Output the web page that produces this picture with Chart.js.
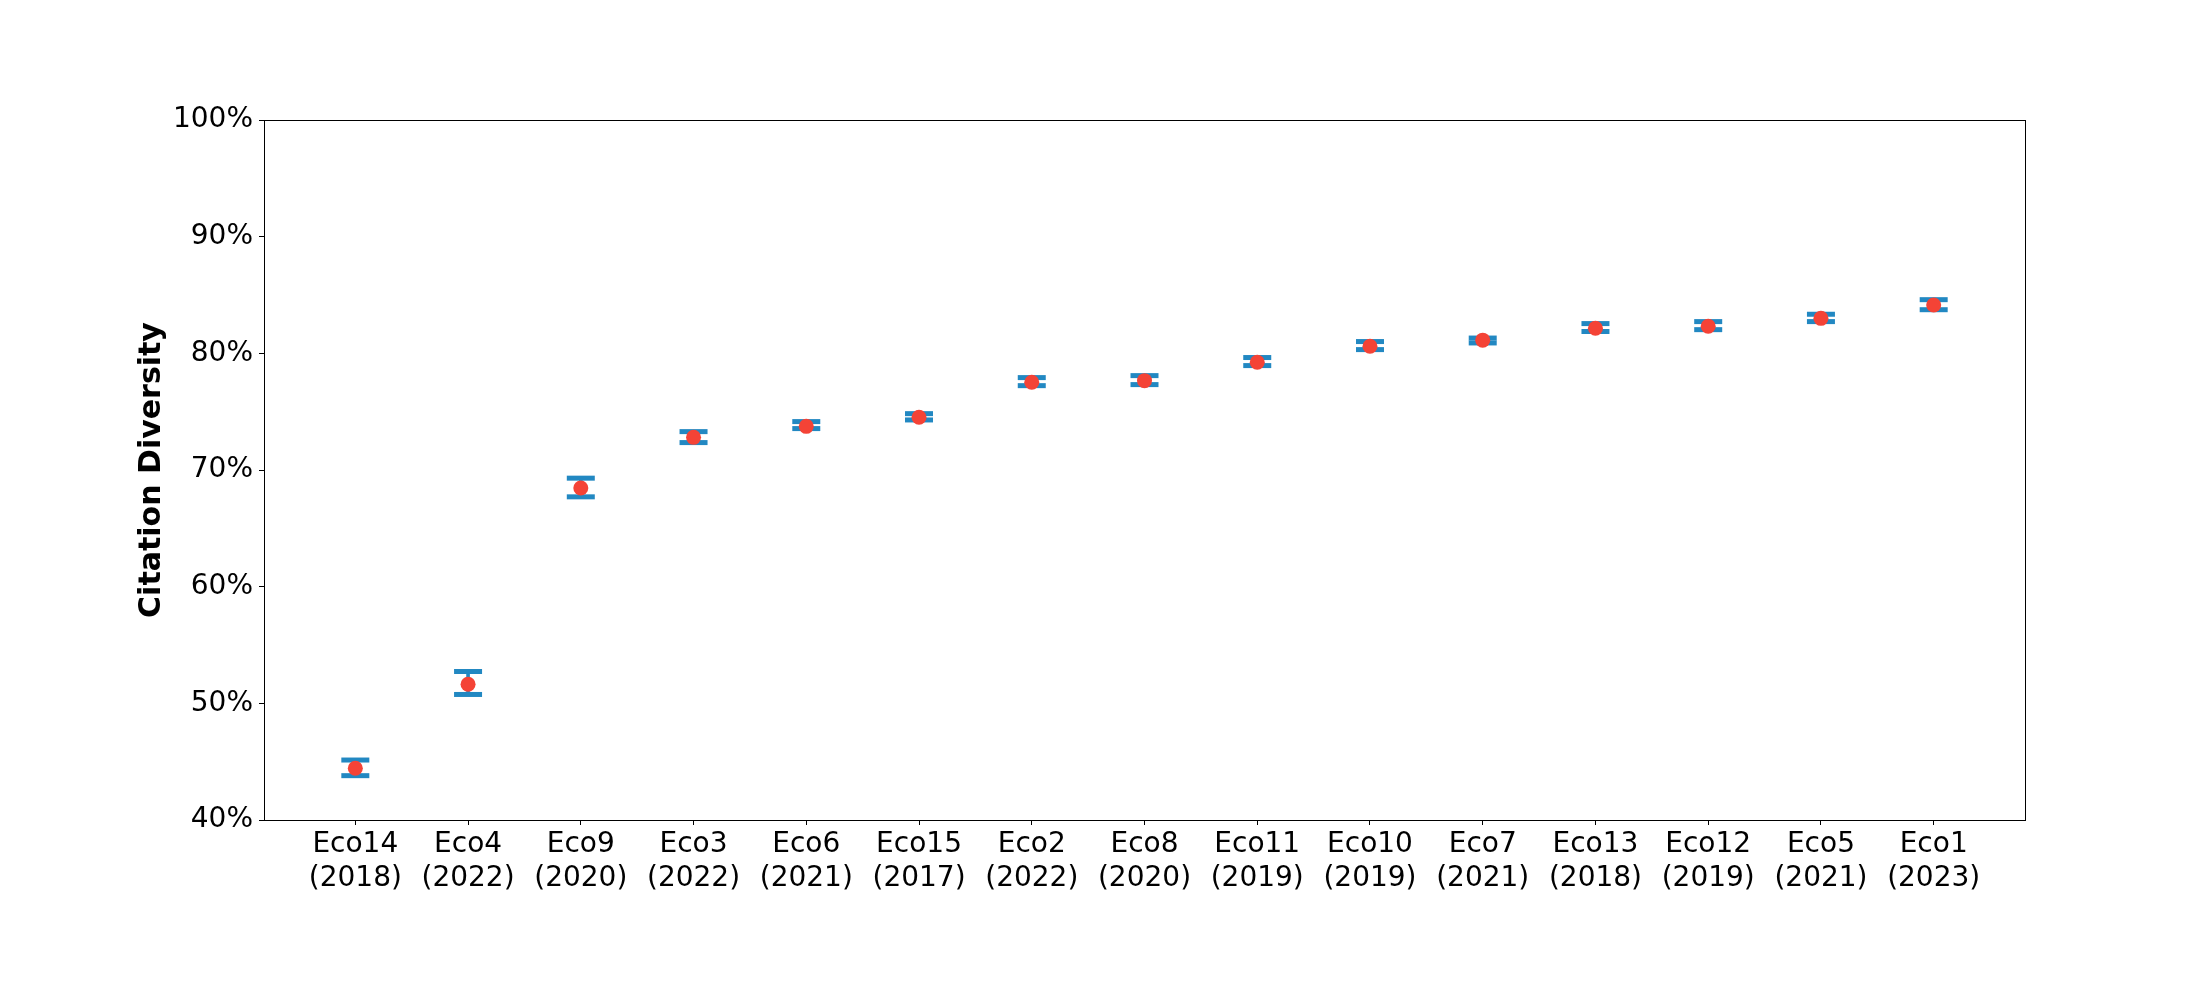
<!DOCTYPE html>
<html>
<head>
<meta charset="utf-8">
<script src="https://cdn.jsdelivr.net/npm/chart.js@4.4.1/dist/chart.umd.min.js"></script>
<style>
  html, body { margin: 0; padding: 0; background: #fff; }
  canvas { display: block; }
</style>
</head>
<body>
<canvas id="chart" width="2200" height="1000"></canvas>
<script>
// ── Data ───────────────────────────────────────────────
const names = ['Eco14', 'Eco4', 'Eco9', 'Eco3', 'Eco6', 'Eco15', 'Eco2', 'Eco8', 'Eco11', 'Eco10', 'Eco7', 'Eco13', 'Eco12', 'Eco5', 'Eco1']
const years = ['2018', '2022', '2020', '2022', '2021', '2017', '2022', '2020', '2019', '2019', '2021', '2018', '2019', '2021', '2023']
const means = [44.43, 51.64, 68.46, 72.80, 73.74, 74.52, 77.52, 77.66, 79.24, 80.61, 81.13, 82.15, 82.32, 83.00, 84.14]
const upper = [45.14, 52.73, 69.30, 73.29, 74.15, 74.83, 77.92, 78.09, 79.64, 81.01, 81.31, 82.55, 82.72, 83.35, 84.60]
const lower = [43.80, 50.76, 67.70, 72.35, 73.55, 74.29, 77.23, 77.32, 78.95, 80.32, 80.89, 81.87, 82.03, 82.72, 83.74]
const yTicks = [40, 50, 60, 70, 80, 90, 100]

const BLUE = '#2288c2'
const RED  = '#f44336'
const FONT = "'DejaVu Sans', sans-serif"

// box around the plot, like matplotlib spines
const framePlugin = {
  id: 'frame',
  afterDatasetsDraw(chart) {
    const { ctx, chartArea: a } = chart
    ctx.save()
    ctx.strokeStyle = '#000'
    ctx.lineWidth = 1
    ctx.strokeRect(Math.round(a.left) + 0.5, Math.round(a.top) + 0.5, Math.round(a.right - a.left), Math.round(a.bottom - a.top))
    ctx.restore()
  }
}

const capSet = (vals) => ({
  type: 'line',
  data: vals.map((v, i) => ({ x: i, y: v })),
  showLine: false,
  pointStyle: 'line',
  pointRadius: 14,
  pointHoverRadius: 14,
  borderColor: BLUE,
  pointBorderColor: BLUE,
  pointBorderWidth: 5,
  order: 1
})

new Chart(document.getElementById('chart'), {
  type: 'line',
  data: {
    datasets: [
      {
        type: 'bar',
        data: lower.map((v, i) => ({ x: i, y: [v, upper[i]] })),
        backgroundColor: BLUE,
        borderWidth: 0,
        barThickness: 3,
        order: 2
      },
      capSet(upper),
      capSet(lower),
      {
        type: 'line',
        data: means.map((v, i) => ({ x: i, y: v })),
        showLine: false,
        pointStyle: 'circle',
        pointRadius: 7.5,
        pointBackgroundColor: RED,
        pointBorderColor: RED,
        pointBorderWidth: 0,
        order: 0
      }
    ]
  },
  options: {
    responsive: false,
    animation: false,
    events: [],
    layout: { padding: { left: 0, right: 175, top: 120, bottom: 0 } },
    plugins: { legend: { display: false }, tooltip: { enabled: false } },
    scales: {
      x: {
        type: 'linear',
        offset: false,
        min: -0.81,
        max: names.length - 1 + 0.81,
        afterBuildTicks: s => { s.ticks = names.map((n, i) => ({ value: i })) },
        afterFit: s => { s.height = 180 },
        border: { display: false },
        grid: { offset: false, drawOnChartArea: false, drawTicks: true, tickLength: 5, color: '#000' },
        ticks: {
          autoSkip: false,
          maxRotation: 0,
          padding: 3,
          color: '#000',
          font: { family: FONT, size: 28, lineHeight: 1.2 },
          callback: v => [names[v], '(' + years[v] + ')']
        }
      },
      y: {
        min: 40,
        max: 100,
        afterBuildTicks: s => { s.ticks = yTicks.map(v => ({ value: v })) },
        afterFit: s => { s.width = 264 },
        border: { display: false },
        grid: { drawOnChartArea: false, drawTicks: true, tickLength: 5, color: '#000' },
        ticks: {
          padding: 6,
          color: '#000',
          font: { family: FONT, size: 28 },
          callback: v => v + '%'
        },
        title: {
          display: true,
          text: 'Citation Diversity',
          color: '#000',
          font: { family: FONT, size: 30, weight: 'bold', lineHeight: 1.2 },
          padding: { top: 134, bottom: 0 }
        }
      }
    }
  },
  plugins: [framePlugin]
})
</script>
</body>
</html>
